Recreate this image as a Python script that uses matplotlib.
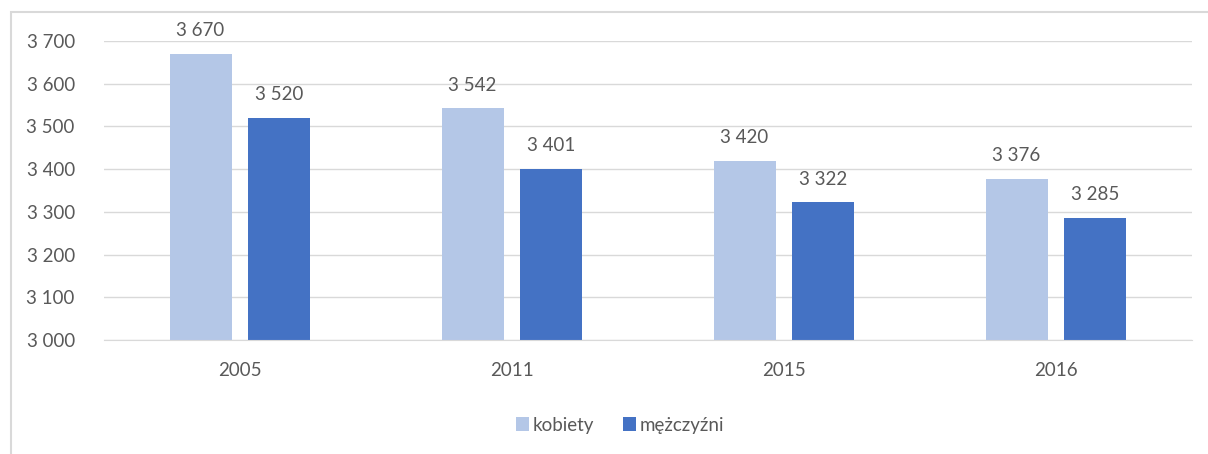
import matplotlib.pyplot as plt
import numpy as np
from matplotlib.patches import Rectangle

years = ["2005", "2011", "2015", "2016"]
kobiety = [3670, 3542, 3420, 3376]
mezczyzni = [3520, 3401, 3322, 3285]
yticks = [3000, 3100, 3200, 3300, 3400, 3500, 3600, 3700]

TXT = "#595959"
GRID = "#d9d9d9"
C_K = "#b4c7e7"
C_M = "#4472c4"

plt.rcParams['font.family'] = ['Lato', 'DejaVu Sans']


def fmt(v):
    s = f"{v:,}"
    return s.replace(",", " ")


fig = plt.figure(figsize=(12.08, 4.54), dpi=100)
# outer chart frame (cropped)
fig.patches.append(Rectangle((11 / 1208, -0.1), 1.2, 1 - 12 / 454 + 0.1,
                             transform=fig.transFigure, fill=False,
                             edgecolor=GRID, linewidth=1.5))

ax = fig.add_axes([104 / 1208, 1 - 340 / 454, (1192 - 104) / 1208, (340 - 41) / 454])
x = np.arange(len(years))
w = 0.228
gap = 0.062
xk = x - (w + gap) / 2
xm = x + (w + gap) / 2
ax.bar(xk, kobiety, w, color=C_K, label="kobiety", zorder=2)
ax.bar(xm, mezczyzni, w, color=C_M, label="mężczyźni", zorder=2)

for xi, v in zip(xk, kobiety):
    ax.text(xi, v + 35, fmt(v), ha="center", va="bottom", fontsize=13.5, color=TXT, clip_on=False)
for xi, v in zip(xm, mezczyzni):
    ax.text(xi, v + 35, fmt(v), ha="center", va="bottom", fontsize=13.5, color=TXT, clip_on=False)

ax.set_xlim(-0.5, len(years) - 0.5)
ax.set_ylim(3000, 3700)
ax.set_yticks(yticks)
ax.set_yticklabels([fmt(t) for t in yticks])
ax.set_xticks(x)
ax.set_xticklabels(years)
ax.tick_params(axis="both", length=0, labelsize=13.5, colors=TXT)
ax.tick_params(axis="y", pad=21)
ax.tick_params(axis="x", pad=16)
ax.grid(axis="y", color=GRID, linewidth=1, zorder=0)
for s in ax.spines.values():
    s.set_visible(False)
ax.spines["bottom"].set_visible(True)
ax.spines["bottom"].set_color(GRID)

fig.legend(loc="center", bbox_to_anchor=(620 / 1208, 1 - 425 / 454), ncol=2,
           frameon=False, fontsize=13.5, labelcolor=TXT, handlelength=0.7,
           handleheight=0.7, handletextpad=0.2, columnspacing=1.5)

fig.savefig("out.png", dpi=100)
